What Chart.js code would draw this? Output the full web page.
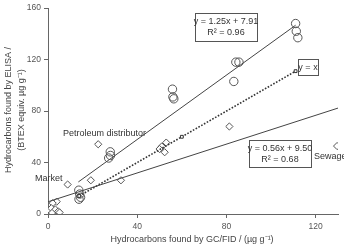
<!DOCTYPE html>
<html>
<head>
<meta charset="utf-8">
<script src="https://cdn.jsdelivr.net/npm/chart.js@4"></script>
<style>
  html, body { margin: 0; padding: 0; background: #fff; }
  #wrap { width: 344px; height: 250px; }
</style>
</head>
<body>
<div id="wrap"><canvas id="chartCanvas" width="344" height="250"></canvas></div>
<script>
// samples (GC/FID x, ELISA y)
const circleX = [111, 111.3, 112, 84.2, 85.6, 83.3, 55.8, 56.4, 56.0, 27.9, 28.0, 27.2, 13.8, 14.2, 14.6, 13.9];
const circleY = [148, 142, 137, 118, 118, 103, 97, 89.5, 91, 48.3, 45.5, 43.5, 18.5, 15.5, 13, 11.5];

const diamondX = [129.6, 81.3, 51.0, 53.0, 52.3, 50.0, 22.5, 19.2, 32.7, 8.8, 3.9, 2.1, 0.8, 1.5, 2.6, 3.3, 4.6, 1.8, 5.2];
const diamondY = [52.8, 68, 52.5, 55.5, 48, 50.5, 54.2, 26.2, 26.2, 22.9, 9.6, 8.4, 3, 4.5, 1.5, 3.5, 2, 0.8, 1.2];

// fitted lines, end points
const upperFitX = [13.6, 111];
const upperFitY = [24.9, 146.7];
const lowerFitX = [0, 130];
const lowerFitY = [9.5, 82.3];
const identityX = [14, 60, 111];
const identityY = [14, 60, 111];

const xTicks = [0, 40, 80, 120];
const yTicks = [0, 40, 80, 120, 160];

const toPoints = (xs, ys) => xs.map((x, i) => ({ x: x, y: ys[i] }));

const FONT = '"Liberation Sans", Arial, sans-serif';
const INK = '#444';

// text boxes and labels
const annotations = {
    id: 'annotations',
    afterDatasetsDraw(chart) {
        const ctx = chart.ctx;
        ctx.save();
        ctx.fillStyle = '#333';
        ctx.strokeStyle = '#555';
        ctx.lineWidth = 1;
        ctx.font = '9px ' + FONT;
        ctx.textAlign = 'center';
        ctx.textBaseline = 'middle';

        function box(x1, y1, x2, y2, lines, ys) {
            ctx.fillStyle = '#fff';
            ctx.fillRect(x1, y1, x2 - x1, y2 - y1);
            ctx.strokeRect(x1 + 0.5, y1 + 0.5, x2 - x1, y2 - y1);
            ctx.fillStyle = '#333';
            lines.forEach((t, i) => ctx.fillText(t, (x1 + x2) / 2, ys[i]));
        }
        box(195, 13, 257, 41, ['y = 1.25x + 7.91', 'R² = 0.96'], [21.5, 33]);
        box(298, 59, 318, 75, ['y = x'], [67.5]);
        box(249, 140, 311, 167, ['y = 0.56x + 9.50', 'R² = 0.68'], [148.5, 159.5]);

        ctx.textAlign = 'left';
        ctx.fillText('Petroleum distributor', 63, 133.5);
        ctx.fillText('Market', 35, 178.5);
        ctx.fillText('Sewage', 314, 157);

        // axis titles
        ctx.fillStyle = INK;
        ctx.textAlign = 'center';
        ctx.fillText('Hydrocarbons found by GC/FID / (µg g⁻¹)', 192, 240);
        ctx.translate(0, 110);
        ctx.rotate(-Math.PI / 2);
        ctx.fillText('Hydrocarbons found by ELISA /', 0, 9);
        ctx.fillText('(BTEX equiv. µg g⁻¹)', 0, 21.5);
        ctx.restore();
    }
};

function initializeChart() {
    const ctx = document.getElementById('chartCanvas').getContext('2d');
    new Chart(ctx, {
        type: 'scatter',
        data: {
            datasets: [
                {
                    label: 'y = 1.25x + 7.91',
                    data: toPoints(upperFitX, upperFitY),
                    showLine: true,
                    borderColor: INK,
                    borderWidth: 1,
                    pointRadius: 0,
                },
                {
                    label: 'y = 0.56x + 9.50',
                    data: toPoints(lowerFitX, lowerFitY),
                    showLine: true,
                    borderColor: INK,
                    borderWidth: 1,
                    pointRadius: 0,
                },
                {
                    label: 'y = x',
                    data: toPoints(identityX, identityY),
                    showLine: true,
                    borderColor: '#333',
                    borderWidth: 1.6,
                    borderDash: [1.6, 1.6],
                    pointStyle: 'rect',
                    pointRadius: 2,
                    pointBackgroundColor: '#fff',
                    pointBorderColor: '#333',
                    pointBorderWidth: 1,
                },
                {
                    label: 'circles',
                    data: toPoints(circleX, circleY),
                    pointStyle: 'circle',
                    pointRadius: 4.2,
                    pointBackgroundColor: 'rgba(255,255,255,0)',
                    pointBorderColor: '#555',
                    pointBorderWidth: 1,
                },
                {
                    label: 'diamonds',
                    data: toPoints(diamondX, diamondY),
                    pointStyle: 'rectRot',
                    pointRadius: 3.6,
                    pointBackgroundColor: '#fff',
                    pointBorderColor: '#555',
                    pointBorderWidth: 1,
                },
            ],
        },
        options: {
            responsive: false,
            animation: false,
            layout: { padding: { top: 5, right: 6, left: 0, bottom: 0 } },
            plugins: {
                legend: { display: false },
                tooltip: { enabled: false },
            },
            scales: {
                x: {
                    type: 'linear',
                    min: 0,
                    max: 130,
                    afterFit: (s) => { s.height = 36; },
                    afterBuildTicks: (s) => { s.ticks = xTicks.map(v => ({ value: v })); },
                    ticks: { color: '#555', font: { family: FONT, size: 8.5 }, padding: 4, maxRotation: 0 },
                    grid: { drawOnChartArea: false, tickLength: 4, color: '#666' },
                    border: { color: '#666' },
                },
                y: {
                    type: 'linear',
                    min: 0,
                    max: 160,
                    afterFit: (s) => { s.width = 48; },
                    afterBuildTicks: (s) => { s.ticks = yTicks.map(v => ({ value: v })); },
                    ticks: { color: '#555', font: { family: FONT, size: 8.5 }, padding: 3 },
                    grid: { drawOnChartArea: false, tickLength: 4, color: '#666' },
                    border: { color: '#666' },
                },
            },
        },
        plugins: [annotations],
    });
}

initializeChart();
</script>
</body>
</html>
